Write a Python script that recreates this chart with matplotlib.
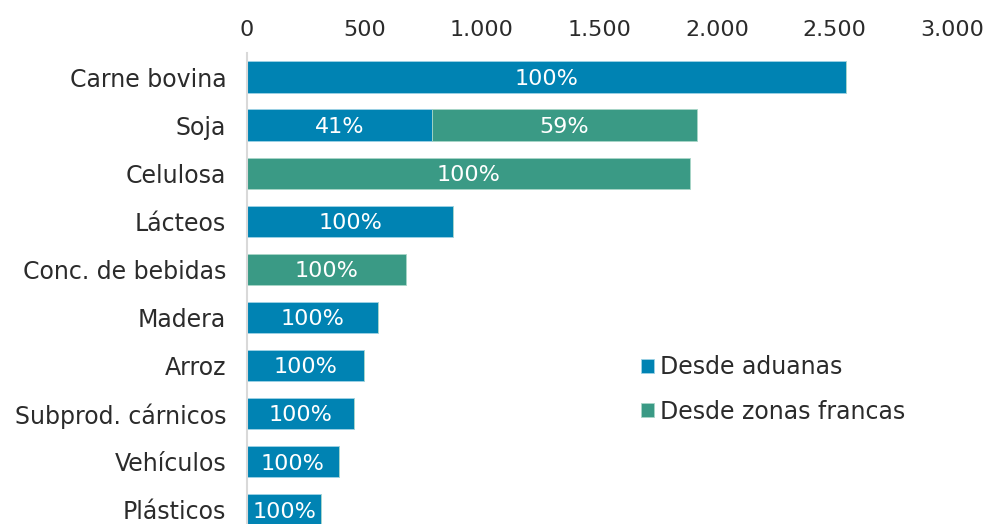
import matplotlib
matplotlib.use("Agg")
import matplotlib.pyplot as plt
from matplotlib.ticker import FuncFormatter

categories = ["Carne bovina", "Soja", "Celulosa", "Lácteos", "Conc. de bebidas",
              "Madera", "Arroz", "Subprod. cárnicos", "Vehículos", "Plásticos"]
aduanas = [2550, 787, 0, 877, 0, 557, 498, 455, 391, 315]
zonas_francas = [0, 1128, 1885, 0, 677, 0, 0, 0, 0, 0]
xticks = [0, 500, 1000, 1500, 2000, 2500, 3000]

blue = "#0083B3"
teal = "#3A9A85"
plt.rcParams['font.family'] = ['DejaVu Sans']

fig = plt.figure(figsize=(9.86, 5.24), dpi=100)
ax = fig.add_axes([247/986, 0, (952-247)/986, 1-53/524])

y = list(range(len(categories)))
h = 0.65
ax.barh(y, aduanas, height=h, color=blue, edgecolor="#9fd3e6", linewidth=0.6, label="Desde aduanas")
ax.barh(y, zonas_francas, left=aduanas, height=h, color=teal, edgecolor="#a8d6c8", linewidth=0.6, label="Desde zonas francas")

for i in range(len(categories)):
    tot = aduanas[i] + zonas_francas[i]
    if aduanas[i] > 0:
        ax.text(aduanas[i]/2, i, f"{round(100*aduanas[i]/tot)}%", ha="center", va="center_baseline",
                color="white", fontsize=16)
    if zonas_francas[i] > 0:
        ax.text(aduanas[i] + zonas_francas[i]/2, i, f"{round(100*zonas_francas[i]/tot)}%",
                ha="center", va="center_baseline", color="white", fontsize=16)

ax.set_xlim(0, 3000)
ax.set_ylim(9.3, -0.5)
ax.set_yticks(y)
ax.set_yticklabels(categories, fontsize=17, color="#2b2b2b")
ax.set_xticks(xticks)
ax.xaxis.set_major_formatter(FuncFormatter(lambda v, p: f"{int(v):,}".replace(",", ".")))
ax.xaxis.tick_top()
ax.tick_params(axis="x", length=0, labelsize=16, labelcolor="#2b2b2b", pad=9)
ax.tick_params(axis="y", length=0, pad=15)
for s in ["top", "right", "bottom"]:
    ax.spines[s].set_visible(False)
ax.spines["left"].set_color("#d9d9d9")
ax.spines["left"].set_linewidth(1.5)

ax.legend(loc="upper left", bbox_to_anchor=((632-247)/705, 1-293/471), frameon=False,
          fontsize=17, handlelength=0.55, handleheight=0.55, handletextpad=0.25,
          labelspacing=0.85, labelcolor="#2b2b2b", borderaxespad=0)

fig.savefig("out.png", dpi=100)
